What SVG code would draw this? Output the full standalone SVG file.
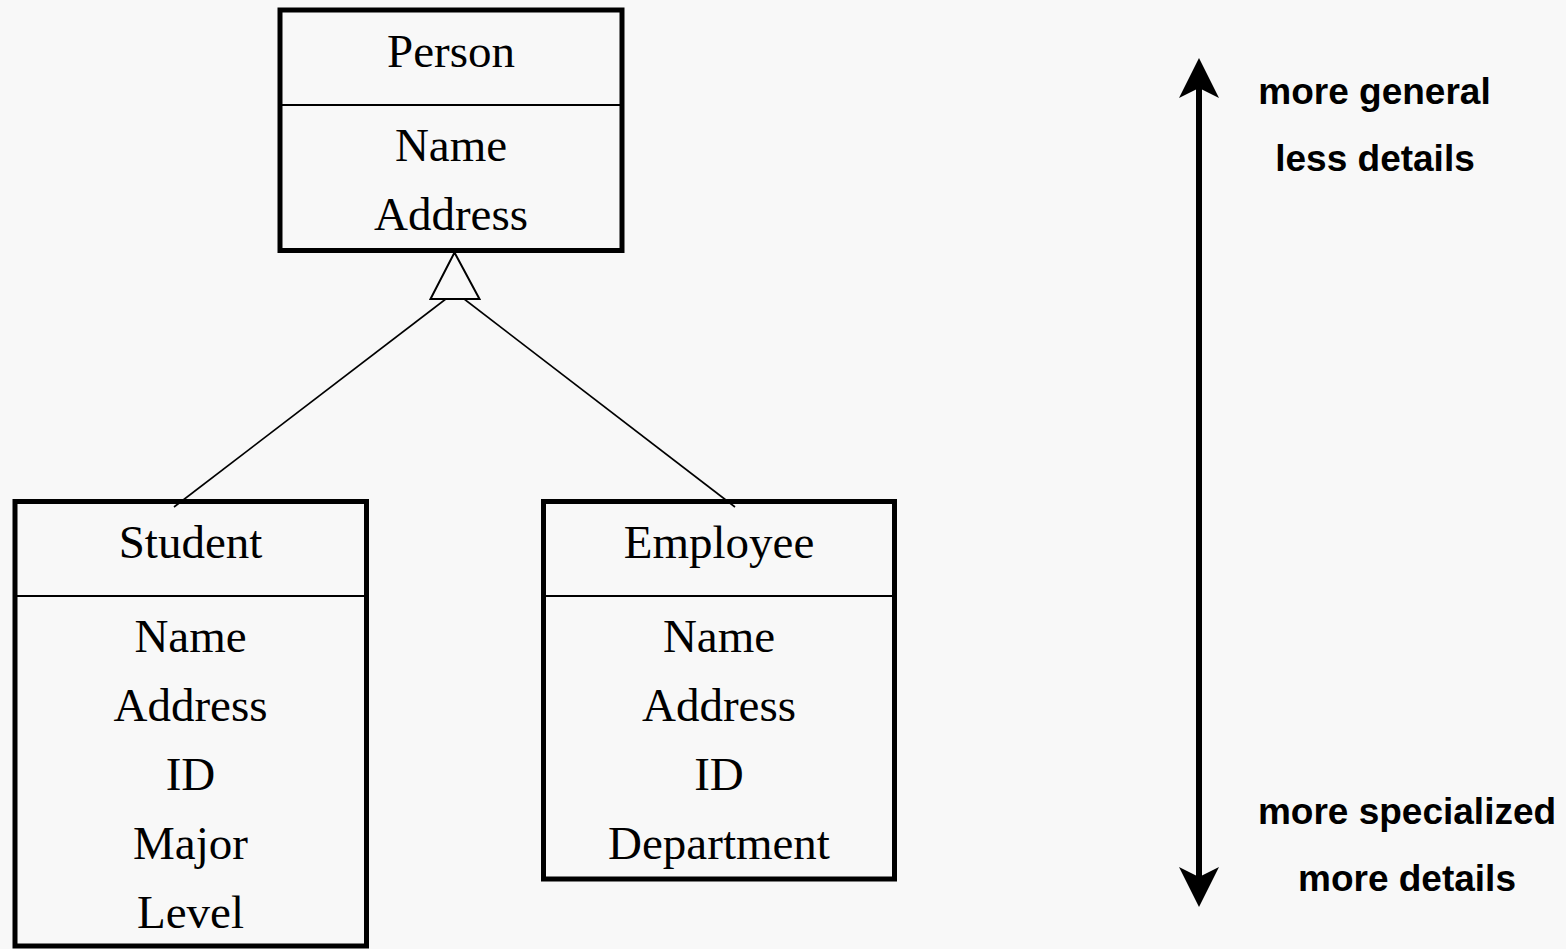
<svg xmlns="http://www.w3.org/2000/svg" width="1566" height="949" viewBox="0 0 1566 949">
  <defs>
    <style>
      .box { fill: none; stroke: #000; stroke-width: 5; }
      .div { stroke: #000; stroke-width: 2; }
      .cls { font-family: "Liberation Serif", "Times New Roman", serif; font-size: 47px; fill: #000; text-anchor: middle; }
      .note { font-family: "Liberation Sans", Arial, sans-serif; font-weight: bold; font-size: 37px; fill: #000; text-anchor: middle; }
      .conn { stroke: #000; stroke-width: 1.6; fill: none; }
      .gen { fill: #f8f8f8; stroke: #000; stroke-width: 2; stroke-linejoin: miter; }
    </style>
    <marker id="arrow" markerUnits="userSpaceOnUse" viewBox="0 0 40 40" markerWidth="40" markerHeight="40" refX="10" refY="20" orient="auto-start-reverse">
      <path d="M0,0 L40,20 L0,40 L10,20 Z" fill="#000"/>
    </marker>
  </defs>
  <rect x="0" y="0" width="1566" height="949" fill="#f8f8f8"/>

  <g id="connectors">
    <line class="conn" x1="455" y1="292" x2="174" y2="507"/>
    <line class="conn" x1="455" y1="292" x2="735" y2="507"/>
    <polygon class="gen" points="454.5,252.5 479.5,299 430.5,299"/>
    <line x1="1199" y1="88" x2="1199" y2="877" stroke="#000" stroke-width="6" marker-start="url(#arrow)" marker-end="url(#arrow)"/>
  </g>

  <g id="person">
    <rect class="box" x="280" y="10" width="342" height="240.5"/>
    <line class="div" x1="280" y1="105" x2="622" y2="105"/>
    <text class="cls" x="451" y="67">Person</text>
    <text class="cls" x="451" y="161">Name</text>
    <text class="cls" x="451" y="230">Address</text>
  </g>

  <g id="student">
    <rect class="box" x="15" y="501.5" width="351.5" height="444.5"/>
    <line class="div" x1="15" y1="596" x2="366.5" y2="596"/>
    <text class="cls" x="190.5" y="557.5">Student</text>
    <text class="cls" x="190.5" y="652">Name</text>
    <text class="cls" x="190.5" y="721">Address</text>
    <text class="cls" x="190.5" y="790">ID</text>
    <text class="cls" x="190.5" y="859">Major</text>
    <text class="cls" x="190.5" y="928">Level</text>
  </g>

  <g id="employee">
    <rect class="box" x="543.5" y="501.5" width="351" height="377.5"/>
    <line class="div" x1="543.5" y1="596" x2="894.5" y2="596"/>
    <text class="cls" x="719" y="557.5">Employee</text>
    <text class="cls" x="719" y="652">Name</text>
    <text class="cls" x="719" y="721">Address</text>
    <text class="cls" x="719" y="790">ID</text>
    <text class="cls" x="719" y="859">Department</text>
  </g>

  <g id="labels">
    <text class="note" x="1374.5" y="103.5">more general</text>
    <text class="note" x="1375" y="170.5">less details</text>
    <text class="note" x="1407" y="823.5">more specialized</text>
    <text class="note" x="1407" y="890.5">more details</text>
  </g>
</svg>
